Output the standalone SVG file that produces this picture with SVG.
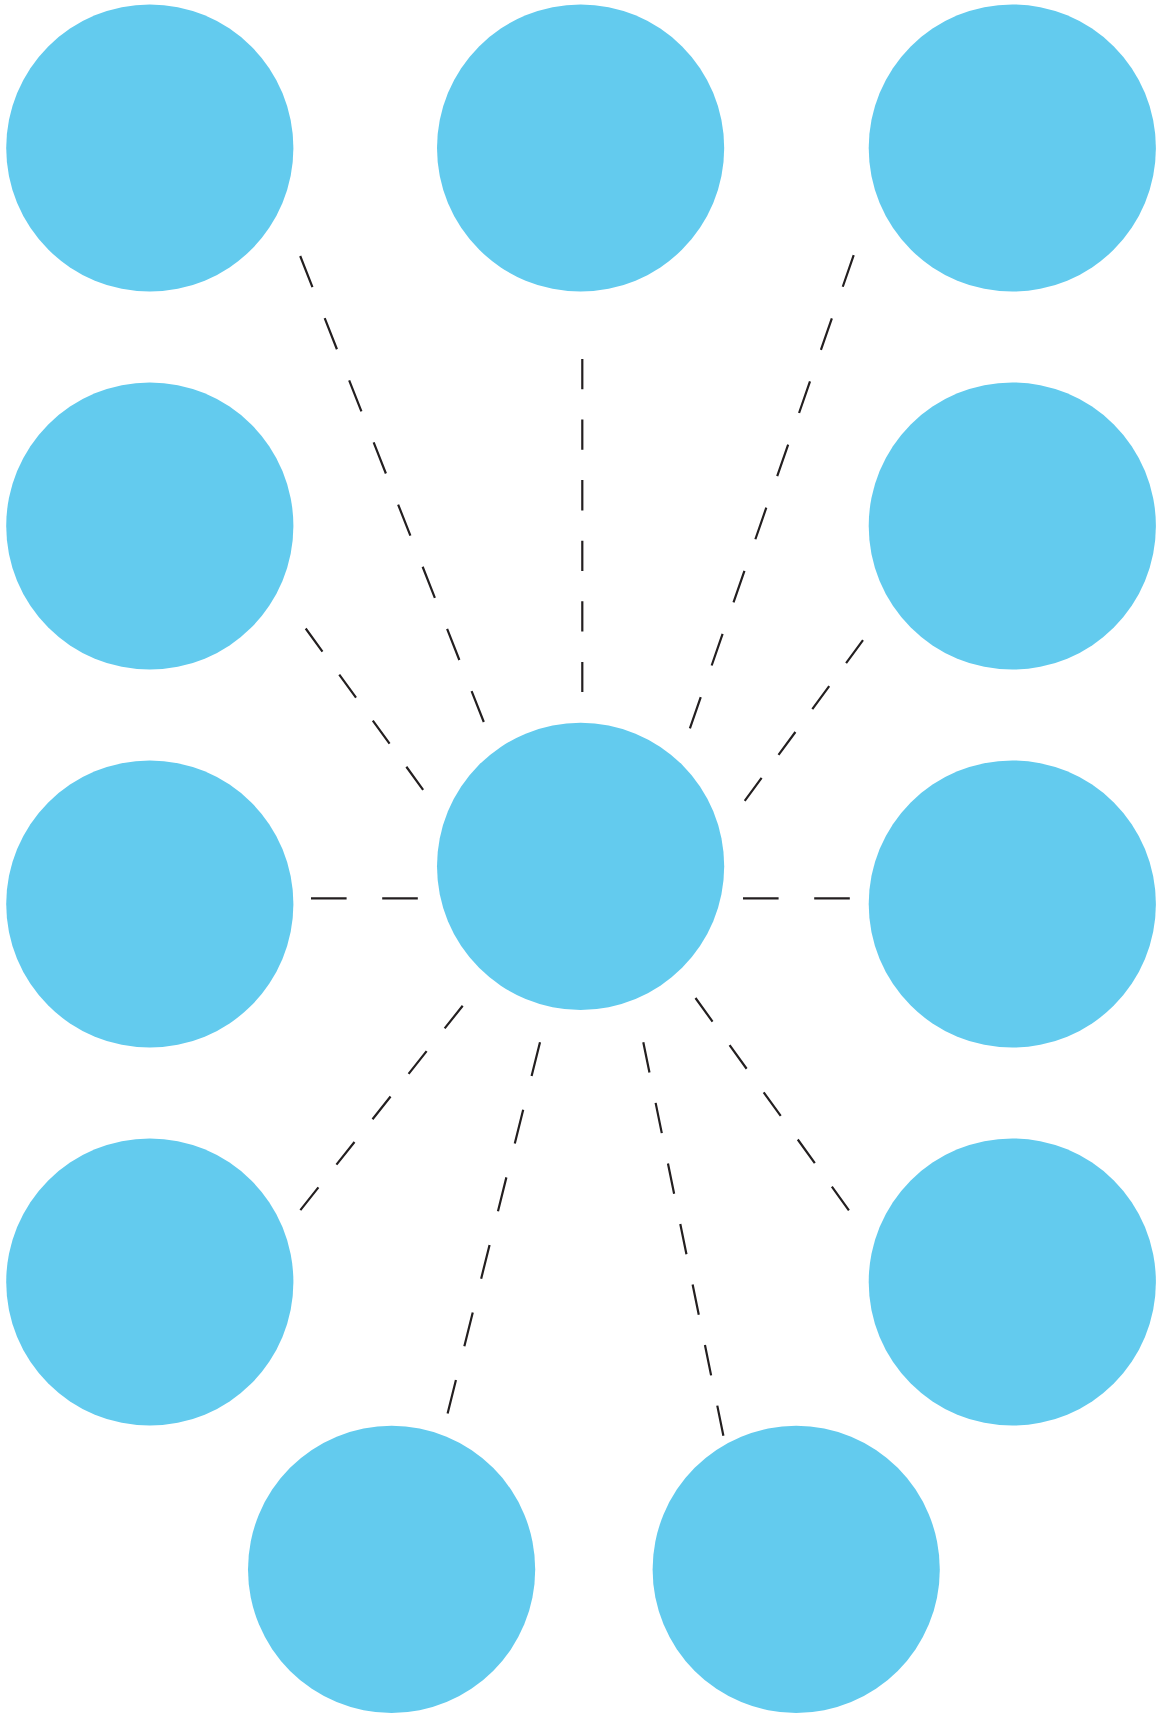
<svg xmlns="http://www.w3.org/2000/svg" width="1159" height="1713" viewBox="0 0 1159 1713">
<style>
.node{fill:#63CBEE}
.conn line{stroke:#231F20;stroke-width:2.2;fill:none;stroke-linecap:butt}
</style>
<rect width="1159" height="1713" fill="#FFFFFF"/>
<g id="connectors" class="conn">
<line x1="311" y1="898.3" x2="417.8" y2="898.3" stroke-dasharray="35.6 35.6"/>
<line x1="743" y1="898.3" x2="849.8" y2="898.3" stroke-dasharray="35.6 35.6"/>
<line x1="582.3" y1="358.9" x2="582.3" y2="692.1" stroke-dasharray="30.3 30.3"/>
<line x1="300.2" y1="256" x2="483.8" y2="722" stroke-dasharray="33.4 33.4"/>
<line x1="853.7" y1="255.2" x2="689.9" y2="728.4" stroke-dasharray="33.4 33.4"/>
<line x1="305.7" y1="628.5" x2="423.3" y2="790" stroke-dasharray="28.5 28.5"/>
<line x1="863" y1="640.2" x2="744.6" y2="801" stroke-dasharray="28.5 28.5"/>
<line x1="462.7" y1="1005.7" x2="300.2" y2="1210.3" stroke-dasharray="29 29"/>
<line x1="540" y1="1042.3" x2="447.6" y2="1413.5" stroke-dasharray="34.8 34.8"/>
<line x1="643.3" y1="1042.3" x2="723.4" y2="1435.7" stroke-dasharray="30.9 30.9"/>
<line x1="695.5" y1="998" x2="849" y2="1210.4" stroke-dasharray="29.1 29.1"/>
</g>
<g id="node-r1-left"><circle class="node" cx="149.8" cy="148" r="143.6"/></g>
<g id="node-r1-mid"><circle class="node" cx="580.6" cy="148" r="143.6"/></g>
<g id="node-r1-right"><circle class="node" cx="1012.3" cy="148" r="143.6"/></g>
<g id="node-r2-left"><circle class="node" cx="149.8" cy="526" r="143.6"/></g>
<g id="node-r2-right"><circle class="node" cx="1012.3" cy="526" r="143.6"/></g>
<g id="node-center"><circle class="node" cx="580.6" cy="866.3" r="143.6"/></g>
<g id="node-r3-left"><circle class="node" cx="149.8" cy="904" r="143.6"/></g>
<g id="node-r3-right"><circle class="node" cx="1012.3" cy="904" r="143.6"/></g>
<g id="node-r4-left"><circle class="node" cx="149.8" cy="1282" r="143.6"/></g>
<g id="node-r4-right"><circle class="node" cx="1012.3" cy="1282" r="143.6"/></g>
<g id="node-r5-left"><circle class="node" cx="391.6" cy="1569.4" r="143.6"/></g>
<g id="node-r5-right"><circle class="node" cx="796.2" cy="1569.4" r="143.6"/></g>
</svg>
